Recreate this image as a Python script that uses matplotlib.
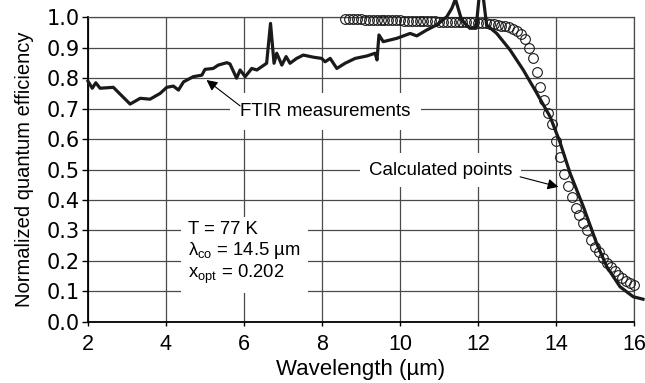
import matplotlib
matplotlib.use("Agg")
import matplotlib.pyplot as plt

plt.rcParams['font.family'] = ['Liberation Sans', 'DejaVu Sans']
plt.rcParams['mathtext.fontset'] = 'custom'
plt.rcParams['mathtext.rm'] = 'Liberation Sans'

# ---------------- data ----------------
ftir_wl = [2.00, 2.11, 2.20, 2.31, 2.65, 3.08, 3.34, 3.59, 3.85, 4.02,
           4.19, 4.32, 4.45, 4.70, 4.92, 5.00, 5.21, 5.34, 5.56, 5.64,
           5.81, 5.90, 6.03, 6.20, 6.33, 6.58, 6.68, 6.77, 6.84, 6.97,
           7.08, 7.18, 7.35, 7.52, 7.78, 7.99, 8.08, 8.21, 8.38, 8.59,
           8.85, 9.15, 9.36, 9.41, 9.46, 9.57, 9.92, 10.26, 10.43, 10.68,
           10.94, 11.20, 11.33, 11.42, 11.58, 11.79, 11.95, 12.03, 12.13, 12.22,
           12.48, 12.82, 13.16, 13.51, 13.85, 14.10, 14.36, 14.70, 15.04, 15.30,
           15.64, 15.98, 16.23]
ftir_qe = [0.790, 0.767, 0.785, 0.767, 0.770, 0.715, 0.734, 0.731, 0.750, 0.770,
           0.774, 0.761, 0.788, 0.805, 0.810, 0.829, 0.832, 0.843, 0.851, 0.847,
           0.800, 0.827, 0.805, 0.832, 0.827, 0.849, 0.980, 0.849, 0.882, 0.843,
           0.871, 0.849, 0.865, 0.876, 0.869, 0.865, 0.854, 0.865, 0.832, 0.849,
           0.865, 0.873, 0.882, 0.860, 0.942, 0.920, 0.931, 0.947, 0.939, 0.958,
           0.975, 1.002, 1.030, 1.060, 0.991, 0.964, 0.964, 1.070, 1.070, 0.975,
           0.947, 0.893, 0.827, 0.750, 0.673, 0.590, 0.488, 0.378, 0.258, 0.181,
           0.115, 0.082, 0.074]

calc_wl = [8.6, 8.7, 8.8, 8.9, 9.0, 9.1, 9.2, 9.3, 9.4, 9.5,
           9.6, 9.7, 9.8, 9.9, 10.0, 10.1, 10.2, 10.3, 10.4, 10.5,
           10.6, 10.7, 10.8, 10.9, 11.0, 11.1, 11.2, 11.3, 11.4, 11.5,
           11.6, 11.7, 11.8, 11.9, 12.0, 12.1, 12.2, 12.3, 12.4, 12.5,
           12.6, 12.7, 12.8, 12.9, 13.0, 13.1, 13.2, 13.3, 13.4, 13.5,
           13.6, 13.7, 13.8, 13.9, 14.0, 14.1, 14.2, 14.3, 14.4, 14.5,
           14.6, 14.7, 14.8, 14.9, 15.0, 15.1, 15.2, 15.3, 15.4, 15.5,
           15.6, 15.7, 15.8, 15.9, 16.0]
calc_qe = [0.993, 0.993, 0.993, 0.993, 0.993, 0.992, 0.992, 0.992, 0.992, 0.991,
           0.991, 0.991, 0.990, 0.990, 0.990, 0.989, 0.989, 0.989, 0.988, 0.988,
           0.988, 0.987, 0.987, 0.987, 0.986, 0.986, 0.986, 0.985, 0.985, 0.985,
           0.984, 0.984, 0.983, 0.983, 0.982, 0.981, 0.980, 0.979, 0.977, 0.975,
           0.973, 0.970, 0.967, 0.962, 0.956, 0.945, 0.930, 0.900, 0.865, 0.820,
           0.770, 0.727, 0.685, 0.650, 0.595, 0.540, 0.485, 0.445, 0.410, 0.375,
           0.350, 0.325, 0.300, 0.270, 0.245, 0.228, 0.210, 0.193, 0.180, 0.167,
           0.155, 0.143, 0.135, 0.127, 0.120]

x_ticks = [2, 4, 6, 8, 10, 12, 14, 16]
y_ticks = [0.0, 0.1, 0.2, 0.3, 0.4, 0.5, 0.6, 0.7, 0.8, 0.9, 1.0]

# ---------------- figure ----------------
fig = plt.figure(figsize=(6.45, 3.83), dpi=100)
ax = fig.add_axes([0.1364, 0.160, 0.8466, 0.7948])
ax.set_xlim(2, 16)
ax.set_ylim(0, 1.0)

grid_c = '#4a4a4a'
for xv in x_ticks:
    ax.axvline(xv, color=grid_c, lw=0.9, zorder=1)
for yv in y_ticks:
    ax.axhline(yv, color=grid_c, lw=0.9, zorder=1)

ax.plot(calc_wl, calc_qe, linestyle='none', marker='o', markersize=7,
        markerfacecolor='none', markeredgecolor='#1a1a1a', markeredgewidth=0.8,
        zorder=4, clip_on=False)
ax.plot(ftir_wl, ftir_qe, color='#1a1a1a', lw=2.3, zorder=5, clip_on=False)

ax.set_xticks(x_ticks)
ax.set_yticks(y_ticks)
ax.set_xticklabels([str(v) for v in x_ticks], fontsize=15.5)
ax.set_yticklabels(['%.1f' % v for v in y_ticks], family='DejaVu Sans', fontsize=15)
ax.tick_params(axis='both', direction='out', color='black', width=1)
ax.tick_params(axis='y', length=4, pad=2)
ax.tick_params(axis='x', length=3, pad=6)

for side in ['top', 'right']:
    ax.spines[side].set_color(grid_c)
    ax.spines[side].set_linewidth(0.9)
for side in ['left', 'bottom']:
    ax.spines[side].set_color('black')
    ax.spines[side].set_linewidth(1.3)

ax.set_xlabel('Wavelength (µm)', fontsize=16, labelpad=3)
ax.set_ylabel('Normalized quantum efficiency', fontsize=14.5, labelpad=9)

# annotations
ax.text(8.09, 0.690, 'FTIR measurements', fontsize=13.5, ha='center', va='center',
        zorder=3, bbox=dict(boxstyle='square,pad=0.55', fc='white', ec='none'))
ax.annotate('', xy=(5.04, 0.794), xytext=(5.90, 0.709),
            arrowprops=dict(arrowstyle='-|>', color='black', lw=0.8,
                            mutation_scale=16, shrinkA=0, shrinkB=0), zorder=6)

ax.text(11.04, 0.498, 'Calculated points', fontsize=13.5, ha='center', va='center',
        zorder=3, bbox=dict(boxstyle='square,pad=0.45', fc='white', ec='none'))
ax.annotate('', xy=(14.06, 0.443), xytext=(13.08, 0.476),
            arrowprops=dict(arrowstyle='-|>', color='black', lw=0.8,
                            mutation_scale=16, shrinkA=0, shrinkB=0), zorder=6)

ax.text(4.57, 0.225, 'T = 77 K\nλ$_{\\rm co}$ = 14.5 µm\nx$_{\\rm opt}$ = 0.202',
        fontsize=13.3, ha='left', va='center', linespacing=1.12, zorder=3,
        bbox=dict(boxstyle='square,pad=0.4', fc='white', ec='none'))

fig.savefig('out.png', dpi=100)
